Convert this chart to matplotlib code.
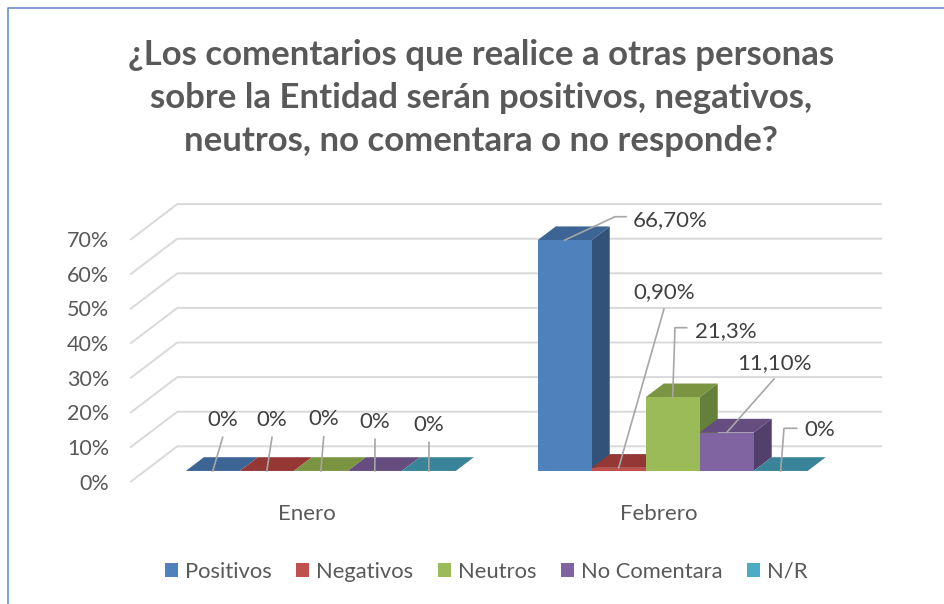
import matplotlib
matplotlib.use("Agg")
import matplotlib.pyplot as plt
from matplotlib.lines import Line2D
from matplotlib.patches import Patch
from matplotlib.transforms import Affine2D

plt.rcParams['font.family'] = ['Lato', 'DejaVu Sans']

meses = ["Enero", "Febrero"]
series = ["Positivos", "Negativos", "Neutros", "No Comentara", "N/R"]
enero = [0, 0, 0, 0, 0]
febrero = [66.7, 0.9, 21.3, 11.1, 0]
etiquetas_enero = ["0%", "0%", "0%", "0%", "0%"]
etiquetas_febrero = ["66,70%", "0,90%", "21,3%", "11,10%", "0%"]
yticks = [0, 10, 20, 30, 40, 50, 60, 70]
titulo = "¿Los comentarios que realice a otras personas\nsobre la Entidad serán positivos, negativos,\nneutros, no comentara o no responde?"

col_frente = ["#4F81BD", "#C0504D", "#9BBB59", "#8064A2", "#4BACC6"]
col_arriba = ["#3C6494", "#953735", "#7A9442", "#654D80", "#3A8499"]
col_lado = ["#32527A", "#7D2F2D", "#65803A", "#523F6B", "#2F6C7E"]
GRIS = "#595959"
GRID = "#D9D9D9"
LIDER = "#A6A6A6"

W, H = 945, 604
fig = plt.figure(figsize=(W / 100, H / 100), dpi=100, facecolor="white")
# transform en pixeles de la imagen, y hacia abajo
px = Affine2D().scale(1 / W, -1 / H).translate(0, 1) + fig.transFigure

ax = fig.add_axes([131 / W, 1 - 481.5 / H, 703.7 / W, 242.2 / H])
ax.set_xlim(0, 2)
ax.set_ylim(0, 70)
ax.patch.set_visible(False)
for s in ax.spines.values():
    s.set_visible(False)

# desplazamiento de la profundidad, en unidades de datos
DX = 46.3 / 351.85
DY = 35.2 / 3.46
ANCHO = 54 / 351.85
D0, D1 = 0.30, 0.69


def proy(x, v, d):
    return x + d * DX, v + d * DY


def cara(puntos, color, z):
    xs = [p[0] for p in puntos]
    ys = [p[1] for p in puntos]
    ax.fill(xs, ys, color=color, lw=0, clip_on=False, zorder=z)


# rejilla
for v in yticks:
    a = proy(0, v, 0)
    b = proy(0, v, 1)
    c = proy(2, v, 1)
    ax.plot([a[0], b[0], c[0]], [a[1], b[1], c[1]], color=GRID, lw=1.4, clip_on=False, zorder=1)

# barras
z = 3
for i, valores in enumerate([enero, febrero]):
    x_ini = i + 0.5 - 2.5 * ANCHO
    for j, v in enumerate(valores):
        x0 = x_ini + j * ANCHO
        x1 = x0 + ANCHO
        cara([proy(x1, 0, D0), proy(x1, 0, D1), proy(x1, v, D1), proy(x1, v, D0)], col_lado[j], z)
        cara([proy(x0, v, D0), proy(x1, v, D0), proy(x1, v, D1), proy(x0, v, D1)], col_arriba[j], z)
        if v > 0:
            cara([proy(x0, 0, D0), proy(x1, 0, D0), proy(x1, v, D0), proy(x0, v, D0)], col_frente[j], z)
        z += 1

# lineas guia y etiquetas, el resto del camino en pixeles
guias_enero = [[(222.7, 437.3)], [(272, 437.3)], [(323.7, 436.7)], [(375, 439.3)], [(429, 442.3)]]
pos_enero = [(223, 420), (272, 420), (324, 419), (375, 422), (429, 425)]
guias_feb = [[(615, 216.7), (626, 216.7)], [(664, 309)], [(675, 327.7), (686.7, 327.7)],
             [(774, 379)], [(784, 428.3), (796.7, 428.3)]]
pos_feb = [(670, 220), (664.5, 292), (725.5, 331), (774.5, 363), (820, 430)]

datos_a_px = ax.transData + px.inverted()
for i, valores in enumerate([enero, febrero]):
    guias = [guias_enero, guias_feb][i]
    pos = [pos_enero, pos_feb][i]
    txt = [etiquetas_enero, etiquetas_febrero][i]
    x_ini = i + 0.5 - 2.5 * ANCHO
    for j, v in enumerate(valores):
        ancla = datos_a_px.transform(proy(x_ini + (j + 0.5) * ANCHO, v, D0))
        camino = [tuple(ancla)] + guias[j]
        ax.plot([p[0] for p in camino], [p[1] for p in camino], color=LIDER, lw=1.2,
                transform=px, clip_on=False, zorder=50)
        ax.text(pos[j][0], pos[j][1], txt[j], transform=px, ha="center", va="center",
                fontsize=16, color="#404040", zorder=51)

ax.set_yticks(yticks)
ax.set_yticklabels(["%d%%" % v for v in yticks], fontsize=15.5, color=GRIS)
ax.set_xticks([0.5, 1.5])
ax.set_xticklabels(meses, fontsize=16, color=GRIS)
ax.tick_params(axis="both", length=0)
ax.tick_params(axis="y", pad=15.5)
ax.tick_params(axis="x", pad=16)

fig.text(481 / W, 1 - 98 / H, titulo, ha="center", va="center", fontsize=25, fontweight="bold",
         color=GRIS, linespacing=1.43)

FS = 15.8
fpx = FS * 100 / 72
handles = [Patch(color=c, lw=0) for c in col_frente]
fig.legend(handles, series, loc="center", bbox_to_anchor=(486 / W, 1 - 572 / H), ncol=5, frameon=False,
           fontsize=FS, labelcolor=GRIS, handlelength=13 / fpx, handleheight=13 / fpx,
           handletextpad=7 / fpx, columnspacing=24.5 / fpx)

# borde del grafico
fig.add_artist(Line2D([8, 8, 945], [604, 7.5, 7.5], transform=px, color="#5B87BE", lw=1.1))

fig.savefig("out.png", dpi=100, facecolor="white")
